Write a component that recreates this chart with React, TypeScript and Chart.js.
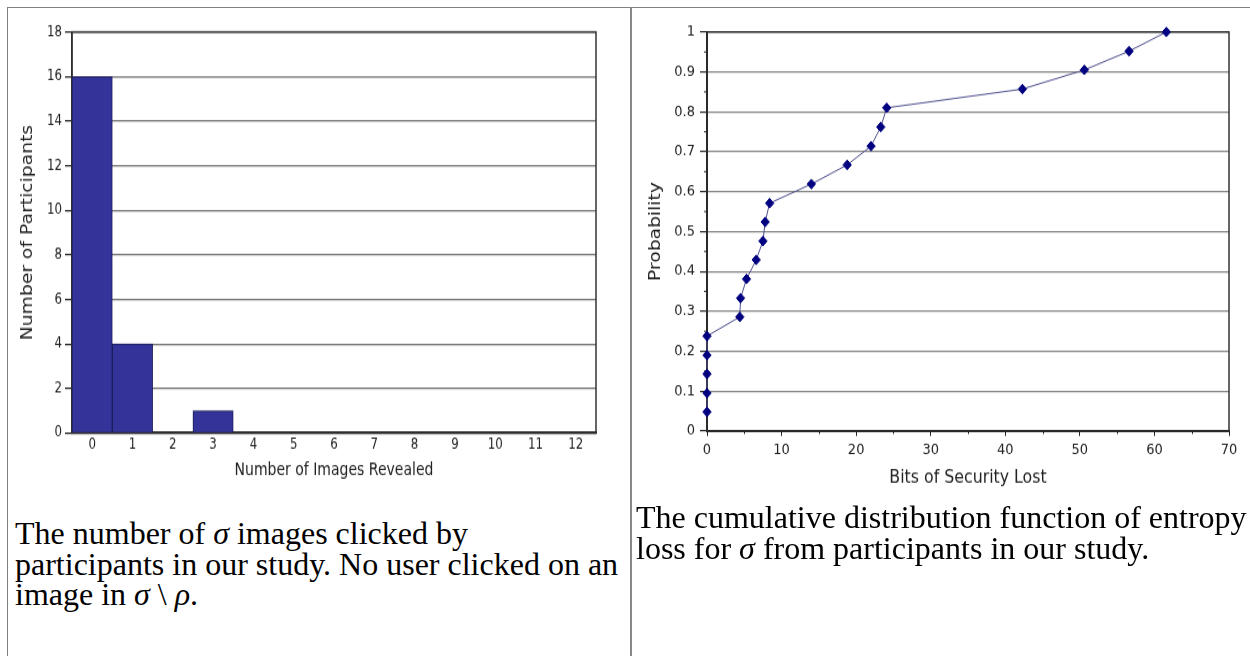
import React, { useEffect, useRef } from 'react';
import { Chart, registerables } from 'chart.js';

Chart.register(...registerables);

// ---- Data: left chart (histogram) ----
const imageCounts = ['0', '1', '2', '3', '4', '5', '6', '7', '8', '9', '10', '11', '12'];
const participants = [16, 4, 0, 1, 0, 0, 0, 0, 0, 0, 0, 0, 0];

// ---- Data: right chart (CDF) ----
const bitsLost = [0, 0, 0, 0, 0, 4.4, 4.5, 5.3, 6.6, 7.5, 7.8, 8.4, 14.0, 18.8, 22.0, 23.3, 24.1, 42.3, 50.6, 56.6, 61.6];
const probability = [0.048, 0.095, 0.143, 0.19, 0.238, 0.286, 0.333, 0.381, 0.429, 0.476, 0.524, 0.571, 0.619, 0.667, 0.714, 0.762, 0.81, 0.857, 0.905, 0.952, 1.0];
const bitsMinorTicks = [5, 15, 25, 35, 45, 55, 65];
const probMinorTicks = [0.05, 0.15, 0.25, 0.35, 0.45, 0.55, 0.65, 0.75, 0.85, 0.95];

const FAM = '"DejaVu Sans", sans-serif';
const INK = '#222222';

// The reference chart images are stretched vertically; render at a reduced
// backing height and let CSS stretch the canvas to its display height.
const PANEL_H = 500;
const K_LEFT = 1.25;
const K_RIGHT = 1.15;

const framePlugin = {
  id: 'frame',
  beforeDatasetsDraw(chart: any) {
    const { ctx, chartArea } = chart;
    const { left, top, right, bottom } = chartArea;
    ctx.save();
    ctx.strokeStyle = '#333333';
    ctx.lineWidth = 1.5;
    ctx.strokeRect(left, top, right - left, bottom - top);
    ctx.restore();
  },
};

const minorTickPlugin = {
  id: 'minorTicks',
  beforeDatasetsDraw(chart: any) {
    const { ctx, chartArea, scales } = chart;
    ctx.save();
    ctx.strokeStyle = INK;
    ctx.lineWidth = 1;
    ctx.beginPath();
    for (const v of bitsMinorTicks) {
      const x = Math.round(scales.x.getPixelForValue(v)) + 0.5;
      ctx.moveTo(x, chartArea.bottom);
      ctx.lineTo(x, chartArea.bottom + 2.6);
    }
    for (const v of probMinorTicks) {
      const y = scales.y.getPixelForValue(v);
      ctx.moveTo(chartArea.left - 3, y);
      ctx.lineTo(chartArea.left, y);
    }
    ctx.stroke();
    ctx.restore();
  },
};

function BarPanel() {
  const ref = useRef<HTMLCanvasElement | null>(null);
  const backH = Math.round(PANEL_H / K_LEFT);
  const k = PANEL_H / backH;
  useEffect(() => {
    if (!ref.current) return;
    const top = 32 / k;
    const bottom = 433 / k;
    const chart = new Chart(ref.current, {
      type: 'bar',
      data: {
        labels: imageCounts,
        datasets: [
          {
            data: participants,
            backgroundColor: '#333399',
            borderColor: '#1c1c5a',
            borderWidth: 1,
            barPercentage: 1,
            categoryPercentage: 1,
          },
        ],
      },
      options: {
        responsive: false,
        animation: false,
        layout: { padding: { left: 0, top, right: 34, bottom: 0 } },
        plugins: { legend: { display: false }, tooltip: { enabled: false } },
        scales: {
          x: {
            grid: { display: true, drawOnChartArea: false, drawTicks: false },
            border: { display: true, color: INK, width: 2 },
            ticks: { font: { family: FAM, size: 11.8 }, color: INK, padding: 2, maxRotation: 0, autoSkip: false },
            title: {
              display: true,
              text: 'Number of Images Revealed',
              font: { family: FAM, size: 14 },
              color: INK,
              padding: { top: 0, bottom: 15.6 },
            },
            afterFit(scale: any) {
              scale.height = backH - bottom;
            },
          },
          y: {
            min: 0,
            max: 18,
            ticks: { stepSize: 2, font: { family: FAM, size: 11.8 }, color: INK, padding: 3 },
            grid: { color: '#737373', lineWidth: 1.2, tickColor: INK, tickLength: 7 },
            border: { display: true, color: INK, width: 1.5 },
            title: {
              display: true,
              text: 'Number of Participants',
              font: { family: FAM, size: 15 },
              color: INK,
              padding: { top: 19, bottom: 0 },
            },
            afterFit(scale: any) {
              scale.width = 72;
            },
          },
        },
      },
      plugins: [framePlugin],
    } as any);
    return () => chart.destroy();
  }, []);
  return (
    <canvas
      ref={ref}
      width={630}
      height={backH}
      style={{ position: 'absolute', left: 0, top: 0, width: 630, height: PANEL_H }}
    />
  );
}

function LinePanel() {
  const ref = useRef<HTMLCanvasElement | null>(null);
  const backH = Math.round(PANEL_H / K_RIGHT);
  const k = PANEL_H / backH;
  useEffect(() => {
    if (!ref.current) return;
    const top = 32 / k;
    const bottom = 431 / k;
    const points = bitsLost.map((x, i) => ({ x, y: probability[i] }));
    const chart = new Chart(ref.current, {
      type: 'line',
      data: {
        datasets: [
          {
            data: points,
            borderColor: '#4c4c8c',
            borderWidth: 1,
            pointStyle: 'rectRot',
            pointRadius: 4.2,
            pointBackgroundColor: '#000080',
            pointBorderColor: '#000080',
            pointBorderWidth: 1,
            tension: 0,
            clip: false,
          },
        ],
      },
      options: {
        responsive: false,
        animation: false,
        layout: { padding: { left: 0, top, right: 21, bottom: 0 } },
        plugins: { legend: { display: false }, tooltip: { enabled: false } },
        scales: {
          x: {
            type: 'linear',
            min: 0,
            max: 70,
            ticks: { stepSize: 10, font: { family: FAM, size: 13 }, color: INK, padding: 4, maxRotation: 0 },
            grid: { drawOnChartArea: false, drawTicks: true, tickLength: 4.4, tickColor: INK },
            border: { display: true, color: '#111111', width: 2 },
            title: {
              display: true,
              text: 'Bits of Security Lost',
              font: { family: FAM, size: 15.8 },
              color: INK,
              padding: { top: 0, bottom: 9.6 },
            },
            afterFit(scale: any) {
              scale.height = backH - bottom;
            },
          },
          y: {
            min: 0,
            max: 1,
            ticks: {
              stepSize: 0.1,
              font: { family: FAM, size: 13 },
              color: INK,
              padding: 5,
              callback: (v: any) => String(Number(Number(v).toFixed(1))),
            },
            grid: { color: '#828282', lineWidth: 1.2, tickColor: INK, tickLength: 7 },
            border: { display: true, color: '#111111', width: 2 },
            title: {
              display: true,
              text: 'Probability',
              font: { family: FAM, size: 16.3 },
              color: INK,
              padding: { top: 14.5, bottom: 0 },
            },
            afterFit(scale: any) {
              scale.width = 76;
            },
          },
        },
      },
      plugins: [framePlugin, minorTickPlugin],
    } as any);
    return () => chart.destroy();
  }, []);
  return (
    <canvas
      ref={ref}
      width={619}
      height={backH}
      style={{ position: 'absolute', left: 631, top: 0, width: 619, height: PANEL_H }}
    />
  );
}

const captionStyle: React.CSSProperties = {
  position: 'absolute',
  fontFamily: '"Liberation Serif", "Times New Roman", serif',
  fontSize: 32,
  lineHeight: '30.5px',
  color: '#000',
  whiteSpace: 'nowrap',
};

export default function App() {
  return (
    <div
      style={{
        position: 'absolute',
        left: 0,
        top: 0,
        width: 1250,
        height: 656,
        overflow: 'hidden',
        background: '#fff',
      }}
    >
      <BarPanel />
      <LinePanel />
      {/* table borders */}
      <div style={{ position: 'absolute', left: 7, top: 7, width: 1243, height: 1, background: '#808080' }} />
      <div style={{ position: 'absolute', left: 7, top: 7, width: 1, height: 649, background: '#808080' }} />
      <div style={{ position: 'absolute', left: 630, top: 7, width: 2, height: 649, background: '#888888' }} />
      <div style={{ ...captionStyle, left: 15, top: 518 }}>
        The number of <i>σ</i> images clicked by
        <br />
        participants in our study. No user clicked on an
        <br />
        image in <i>σ</i> \ <i>ρ</i>.
      </div>
      <div style={{ ...captionStyle, left: 636, top: 502 }}>
        The cumulative distribution function of entropy
        <br />
        loss for <i>σ</i> from participants in our study.
      </div>
    </div>
  );
}
